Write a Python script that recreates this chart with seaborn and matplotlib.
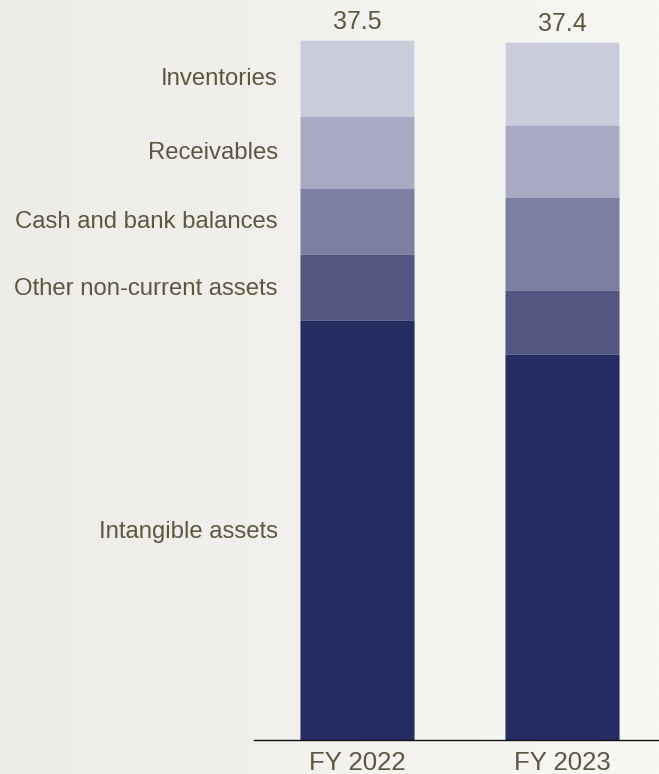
import numpy as np
import pandas as pd
import matplotlib
matplotlib.use("Agg")
import matplotlib.pyplot as plt
from matplotlib.colors import LinearSegmentedColormap
import seaborn as sns

# Balance-sheet asset composition (EUR bn), bottom segment first
years = ["FY 2022", "FY 2023"]
segments = ["Intangible assets", "Other non-current assets",
            "Cash and bank balances", "Receivables", "Inventories"]
intangible = [22.48, 20.69]
other_noncurrent = [3.55, 3.43]
cash = [3.55, 4.98]
receivables = [3.84, 3.86]
inventories = [4.08, 4.44]

colors = ["#242c61", "#525681", "#7c7fa1", "#a8aac3", "#cbccdb"]
text_color = "#5e563f"

sns.set_theme(style="white")
plt.rcParams["font.family"] = ["Liberation Sans", "DejaVu Sans"]

df = pd.DataFrame({
    "year": years,
    segments[0]: intangible,
    segments[1]: other_noncurrent,
    segments[2]: cash,
    segments[3]: receivables,
    segments[4]: inventories,
})
cum = df[segments].cumsum(axis=1)
totals = cum[segments[-1]]

W, H = 659, 774
fig = plt.figure(figsize=(W / 100, H / 100), dpi=100)

# soft horizontal background gradient
bg = fig.add_axes([0, 0, 1, 1], zorder=-10)
grad = LinearSegmentedColormap.from_list("bg", ["#edece7", "#f7f7f4"])
bg.imshow(np.linspace(0, 1, 256)[None, :], aspect="auto", cmap=grad,
          extent=[0, 1, 0, 1])
bg.set_axis_off()

left_px, right_px, base_px = 254, 659, 740
ax = fig.add_axes([left_px / W, (H - base_px) / H,
                   (right_px - left_px) / W, base_px / H])
ax.set_facecolor("none")

# stacked bars: draw cumulative totals from the top segment down
for seg, col in zip(segments[::-1], colors[::-1]):
    sns.barplot(data=cum.assign(year=years), x="year", y=seg, color=col,
                width=0.556, saturation=1, ax=ax,
                edgecolor=(1, 1, 1, 0.25), linewidth=0.6)

px_per_unit = 700 / 37.5
ax.set_ylim(0, base_px / px_per_unit)
ax.set_xlim(-0.502, 1.473)

# totals above bars
for i, t in enumerate(totals):
    ax.annotate(f"{t:.1f}", xy=(i, t), xytext=(0, 8), textcoords="offset points",
                ha="center", va="baseline", fontsize=18, color=text_color)

# segment names beside the first bar
starts = [0] + list(cum.iloc[0, :-1])
for seg, s, v in zip(segments, starts, df.loc[0, segments]):
    ax.annotate(seg, xy=(-0.278, s + v / 2), xytext=(-16, -1),
                textcoords="offset points", ha="right", va="center",
                fontsize=17.2, color=text_color)

ax.set_xlabel("")
ax.set_ylabel("")
ax.set_yticks([])
ax.tick_params(axis="x", length=0, pad=8, labelsize=18.5, labelcolor=text_color)
for side in ["top", "right", "left"]:
    ax.spines[side].set_visible(False)
ax.spines["bottom"].set_color("#111111")
ax.spines["bottom"].set_linewidth(1.0)

fig.savefig("out.png", dpi=100)
